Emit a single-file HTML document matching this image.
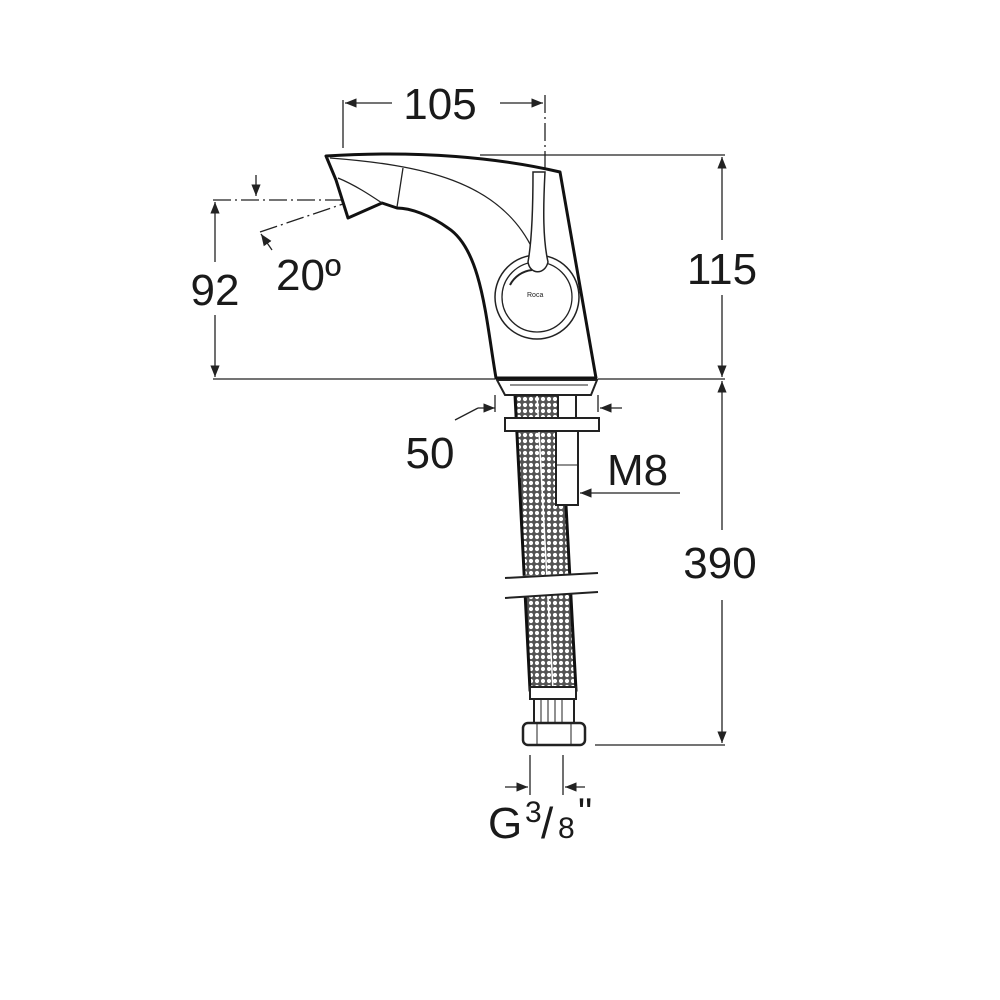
<!DOCTYPE html>
<html><head><style>
body{margin:0;background:#fff}
svg{display:block}
text{font-family:"Liberation Sans",sans-serif;fill:#1a1a1a}
</style></head><body>
<svg width="1000" height="1000" viewBox="0 0 1000 1000" xmlns="http://www.w3.org/2000/svg">
<defs>
<pattern id="mesh" width="6" height="6" patternUnits="userSpaceOnUse">
<rect width="6" height="6" fill="#555"/>
<circle cx="3" cy="3" r="2.1" fill="#fff"/>
</pattern>
<marker id="ar" viewBox="0 0 10 10" refX="10" refY="5" markerWidth="9" markerHeight="9" orient="auto-start-reverse"><path d="M0,1 L10,5 L0,9 z" fill="#222"/></marker>
</defs>
<g stroke="#222" fill="none" stroke-width="1.3">
<line x1="343" y1="100" x2="343" y2="148"/>
<line x1="545" y1="95" x2="545" y2="395" stroke-dasharray="18,4,2,4"/>
<line x1="480" y1="155" x2="725" y2="155"/>
<line x1="213" y1="379" x2="495" y2="379"/>
<line x1="598" y1="379" x2="725" y2="379"/>
<line x1="595" y1="745" x2="725" y2="745"/>
<line x1="213" y1="200" x2="345" y2="200" stroke-dasharray="18,4,2,4"/>
<line x1="260" y1="232" x2="343" y2="204" stroke-dasharray="18,4,2,4"/>
<line x1="345" y1="103" x2="392" y2="103" marker-start="url(#ar)"/>
<line x1="500" y1="103" x2="543" y2="103" marker-end="url(#ar)"/>
<line x1="722" y1="157" x2="722" y2="240" marker-start="url(#ar)"/>
<line x1="722" y1="295" x2="722" y2="377" marker-end="url(#ar)"/>
<line x1="722" y1="381" x2="722" y2="530" marker-start="url(#ar)"/>
<line x1="722" y1="600" x2="722" y2="743" marker-end="url(#ar)"/>
<line x1="215" y1="202" x2="215" y2="262" marker-start="url(#ar)"/>
<line x1="215" y1="315" x2="215" y2="377" marker-end="url(#ar)"/>
<line x1="256" y1="175" x2="256" y2="196" marker-end="url(#ar)"/>
<line x1="272" y1="250" x2="261" y2="234" marker-end="url(#ar)"/>
<line x1="455" y1="420" x2="478" y2="408"/><line x1="478" y1="408" x2="495" y2="408" marker-end="url(#ar)"/>
<line x1="495" y1="395" x2="495" y2="412"/>
<line x1="598" y1="395" x2="598" y2="412"/>
<line x1="622" y1="408" x2="600" y2="408" marker-end="url(#ar)"/>
<line x1="680" y1="493" x2="580" y2="493" marker-end="url(#ar)"/>
<line x1="530" y1="755" x2="530" y2="795"/>
<line x1="563" y1="755" x2="563" y2="795"/>
<line x1="505" y1="787" x2="528" y2="787" marker-end="url(#ar)"/>
<line x1="585" y1="787" x2="565" y2="787" marker-end="url(#ar)"/>
</g>
<path d="M515,395 L530,690 L576,690 L560,395 Z" fill="url(#mesh)" stroke="#111" stroke-width="3"/>
<line x1="537" y1="395" x2="553" y2="690" stroke="#fff" stroke-width="1.5"/>
<path d="M500,577 L600,572 L600,593 L500,598 Z" fill="#fff"/>
<line x1="505" y1="578" x2="598" y2="573" stroke="#222" stroke-width="2"/>
<line x1="505" y1="598" x2="598" y2="592" stroke="#222" stroke-width="2"/>
<rect x="558" y="395" width="18" height="25" fill="#fff" stroke="#222" stroke-width="2"/>
<rect x="556" y="430" width="22" height="75" fill="#fff" stroke="#222" stroke-width="2"/>
<line x1="556" y1="465" x2="578" y2="465" stroke="#222"/>
<rect x="505" y="418" width="94" height="13" fill="#fff" stroke="#222" stroke-width="2"/>
<rect x="530" y="687" width="46" height="12" fill="#fff" stroke="#222" stroke-width="2"/>
<rect x="534" y="699" width="40" height="24" fill="#fff" stroke="#222" stroke-width="2"/>
<path d="M541,699v24M548,699v24M555,699v24M562,699v24" stroke="#222"/>
<rect x="523" y="723" width="62" height="22" rx="5" fill="#fff" stroke="#222" stroke-width="2.5"/>
<path d="M537,724v20M571,724v20" stroke="#222"/>
<path d="M497,380 L597,380 L591,395 L505,395 Z" fill="#fff" stroke="#222" stroke-width="2"/>
<line x1="510" y1="385" x2="588" y2="385" stroke="#222"/>
<path d="M326,156 C420,150 500,158 560,172 L596,378 L496,378 C486,320 482,250 448,228 C430,215 410,208 397,208 L382,203 L348,218 L336,180 Z" fill="#fff" stroke="#111" stroke-width="3" stroke-linejoin="round"/>
<path d="M330,158 C420,165 500,180 533,250" fill="none" stroke="#222" stroke-width="1.3"/>
<path d="M338,178 C355,185 370,195 382,203" fill="none" stroke="#222" stroke-width="1.3"/>
<line x1="403" y1="168" x2="397" y2="207" stroke="#222" stroke-width="1.3"/>
<circle cx="537" cy="297" r="42" fill="#fff" stroke="#222" stroke-width="1.5"/>
<circle cx="537" cy="297" r="35" fill="none" stroke="#222" stroke-width="1.3"/>
<path d="M533,172 L545,172 C543,210 543,240 548,262 C545,275 530,275 528,262 C532,240 533,210 533,172 Z" fill="#fff" stroke="#222" stroke-width="1.5"/>
<path d="M510,285 A28,28 0 0 1 532,270" fill="none" stroke="#222" stroke-width="2"/>
<text x="527" y="297" font-size="7">Roca</text>
<g font-size="44">
<text x="440" y="119" text-anchor="middle">105</text>
<text x="722" y="284" text-anchor="middle">115</text>
<text x="215" y="305" text-anchor="middle">92</text>
<text x="276" y="290">20º</text>
<text x="430" y="468" text-anchor="middle">50</text>
<text x="607" y="485">M8</text>
<text x="720" y="578" text-anchor="middle">390</text>
<text x="488" y="838">G</text>
</g>
<text x="525" y="822" font-size="30">3</text>
<text x="541" y="838" font-size="44">/</text>
<text x="558" y="838" font-size="30">8</text>
<text x="578" y="826" font-size="40">"</text>
</svg>
</body></html>
